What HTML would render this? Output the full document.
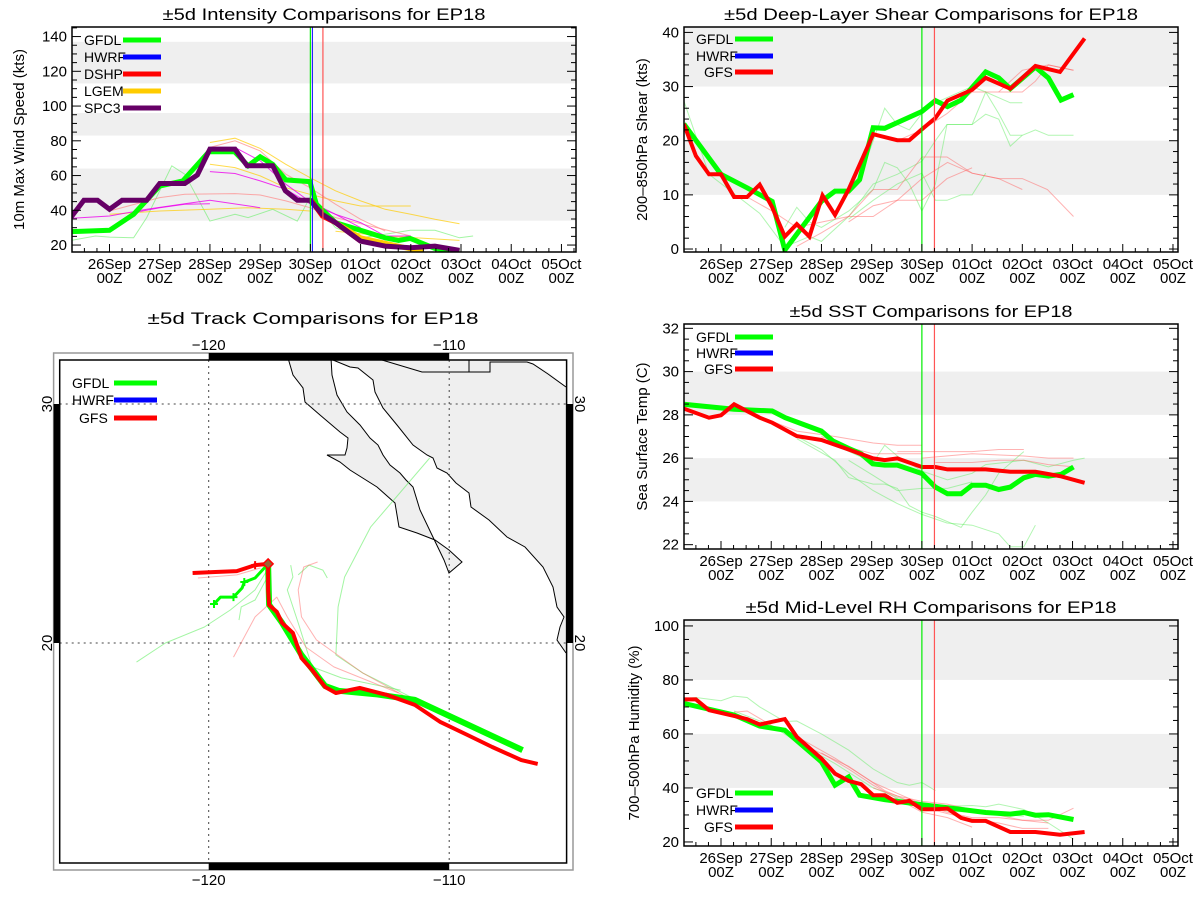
<!DOCTYPE html>
<html><head><meta charset="utf-8"><title>EP18 comparisons</title>
<style>
html,body{margin:0;padding:0;background:#fff;}
svg{display:block;font-family:"Liberation Sans",sans-serif;}
</style></head>
<body>
<svg id="root" xmlns="http://www.w3.org/2000/svg" width="1200" height="900" viewBox="0 0 1200 900">
<rect x="0" y="0" width="1200" height="900" fill="#fff"/>
</svg>
<script>
// ---------- data: time in days since 26Sep 00Z ----------
const dateLabels = ['26Sep','27Sep','28Sep','29Sep','30Sep','01Oct','02Oct','03Oct','04Oct','05Oct'];
const initTimes = [4.0, 4.25];

// Intensity (kt)
const spc3T = [-0.76,-0.51,-0.24,0,0.25,0.74,1.0,1.5,1.75,2.0,2.5,2.74,3.25,3.5,3.74,3.99,4.24,4.5,5.0,5.49,5.99,6.48,6.97];
const spc3V = [36.2,45.8,45.8,40.6,45.8,45.8,55.4,55.4,60.4,75.2,75.2,65.6,65.6,51.2,45.8,45.8,37.7,32.9,22.3,19.4,18.5,19.4,16.9];
const gfdlIT = [-0.76,0,0.48,1.0,1.46,1.98,2.22,2.49,2.76,3.0,3.25,3.51,3.99,4.12,4.5,5.0,5.49,5.76,5.99,6.48,6.97];
const gfdlIV = [27.7,28.5,37.7,54,56.9,73.7,73.7,73.7,65.6,70.8,66.5,57.5,56.5,43.5,32.9,28.5,24.2,22.7,23.8,18.1,16.2];
const dshpT = [4.0,4.24,4.5,5.0];
const dshpV = [46.3,36.7,32.9,22.3];
const lgemT = [4.5,5.0,6.25];
const lgemV = [32.9,24.2,16.2];
const magA_T=[-0.76,0,0.74,1.5,2.0,3.0], magA_V=[35.4,36.7,40.6,43.8,45.8,41.5];
const magB_T=[2,2.5,3,3.51,3.99,4.5,5], magB_V=[62.3,61.2,56.9,52.1,43.8,37.7,30];
const magC_T=[2.5,3.0,3.51,3.99,4.5,5,5.49,6], magC_V=[76.2,68.5,55,45,37.7,32.9,25.2,25.2];
const magD_T=[0.48,1,1.5,2], magD_V=[38.7,41.5,43.5,43.8];
const orE_T=[2,2.5,3,3.51,3.99,4.5,5,5.49,6,6.48,6.97], orE_V=[79,81.5,75.6,66.5,58.8,51.2,45.4,40.6,37.7,34.8,32.3];
const orF_T=[2,2.5,3,3.51,3.99,4.5,5,6], orF_V=[66.5,64.6,59.8,53,49.2,45.4,42.5,42.5];
const orG_T=[0,1,2,2.74,3.51,3.99], orG_V=[37.7,39.6,40.6,41.5,40.6,39.6];
const orH_T=[4.5,5.49,6.97], orH_V=[28,25.2,22.7];
const rdI_T=[0,1,1.5,2.5,3,3.51,3.99,4.5,5,6], rdI_V=[39.6,47.3,49.2,49.6,48.8,45.4,41.5,35.8,32.3,25.2];
const rdJ_T=[2,2.5,3,3.51,3.99,4.5,5,5.49], rdJ_V=[76.2,80,74.2,60.8,53,43.5,34.8,28.1];
const grK_T=[-0.76,-0.28,0,0.48,0.74,1.24,1.5,2,2.5,2.76,3.25,3.74,3.99,4.5,5,5.49,5.99,6.48,6.97,7.24];
const grK_V=[22.7,25.2,24.6,24.2,35.8,65.6,60.8,33.8,37.7,35.8,40.6,33.8,47.3,30,24.2,26.2,28.5,28.5,24.2,25.2];

// Shear (kt)
const gfsShT=[-0.74,-0.5,-0.24,0,0.26,0.52,0.77,1.02,1.27,1.51,1.76,2.02,2.27,2.54,3.03,3.51,3.75,4.0,4.27,4.51,5.0,5.27,5.76,6.26,6.75,7.24];
const gfsShV=[23.1,17.2,13.8,13.8,9.6,9.6,11.9,7.7,2.3,4.6,2.3,9.9,6.3,11,21.2,20.1,20.1,22.1,24.2,27.4,29.4,31.6,29.6,33.8,32.7,38.9];
const gfdlShT=[-0.74,0,0.52,1.02,1.27,2.0,2.27,2.54,2.76,3.03,3.26,4.0,4.27,4.51,4.78,5.27,5.53,5.76,6.26,6.52,6.77,7.02];
const gfdlShV=[23.1,13.8,11.3,8.8,-0.2,8.8,10.7,10.7,12.8,22.4,22.3,25.4,27.4,26.3,27.5,32.7,31.6,29.6,33.6,31.6,27.5,28.5];
const shG1_T=[-0.74,-0.24,0.77,1.27,1.76,2.0,2.54,3.03,3.51,4.0,4.27,4.5,5.0,5.27,5.53,5.76,6.0,6.26,6.52,7.02];
const shG1_V=[27.4,13.8,6.6,0.4,2.3,1.4,6.0,12,13.8,16.2,20,23,23,24.9,24.0,19,21,22,21,21];
const shG2_T=[2.76,3.03,3.26,3.51,3.75,4.0,4.27,5.0,5.27,5.76,6.0], shG2_V=[13,20,26,23,22,25,27,30,29,27,27];
const shG3_T=[1.27,1.51,1.76,2.0,2.54,3.03,3.26,3.51,3.75,4.0,4.27,4.5,5.0,5.27,5.53,5.76,6.0];
const shG3_V=[4,7.7,5,4,7,11,16,15,12,7,12,23,23,29,25,21,21];
const shG4_T=[2.54,3.03,3.51,3.75,4.0,4.27,4.5,4.78,5.0,5.27], shG4_V=[5.5,9,12,13,14,9,9,10,10,14];
const shR1_T=[0.52,1.02,1.51,2.02,2.54,3.03,3.51,4.0,4.5,5.0,5.53,6.0], shR1_V=[9.6,7,4,5,6,11,11,17,17,14,13,11];
const shR2_T=[1.51,2.0,2.54,3.03,3.51,4.0,4.51,5.0,5.53,6.0,6.5,7.02], shR2_V=[0.5,3,6,6,9,13,16,14,13,13,11,6];
const shR3_T=[2.54,3.03,3.51,4.0,4.5,5.0], shR3_V=[5,8,9,9,13,15];
const shR4_T=[3.51,4.0,4.5,5.0,5.53,6.0,6.26,6.52,7.02], shR4_V=[20,22,25,29,29,29,31,34,33];
const shR5_T=[5.53,6.0,6.52,7.02], shR5_V=[29,33,34,33];

// SST (C)
const gfsSstT=[-0.74,-0.24,0,0.26,0.77,1.02,1.51,2.0,2.54,3.03,3.26,3.51,4.0,4.27,4.51,5.27,5.76,6.26,6.75,7.24];
const gfsSstV=[28.29,27.87,27.98,28.49,27.87,27.64,27.02,26.84,26.4,25.99,25.91,25.99,25.59,25.59,25.48,25.48,25.37,25.37,25.17,24.86];
const gfdlSstT=[-0.74,0.26,1.02,1.28,2.0,2.23,2.54,2.79,3.02,3.26,3.51,4.0,4.27,4.51,4.78,5.0,5.27,5.53,5.76,6.03,6.26,6.52,6.77,7.02];
const gfdlSstV=[28.49,28.26,28.18,27.87,27.25,26.79,26.45,26.2,25.74,25.68,25.68,25.29,24.66,24.35,24.35,24.75,24.75,24.55,24.66,25.09,25.25,25.17,25.25,25.59];
const sstR1_T=[0.26,1.02,1.51,2.27,3.03,3.51,4.0], sstR1_V=[28.4,27.7,27.25,27.0,26.7,26.6,26.6];
const sstR2_T=[3.51,4.27,5.0,5.53,6.03], sstR2_V=[26.3,26.3,26.3,26.4,26.4];
const sstR3_T=[4.0,5.0,6.03,6.52,7.02], sstR3_V=[26.0,26.2,26.1,26.0,26.0];
const sstR4_T=[4.27,5.0,5.53,6.03,6.52,7.02], sstR4_V=[25.8,25.8,25.9,25.9,25.7,25.6];
const sstR5_T=[2.0,2.54,3.03,4.0], sstR5_V=[27.0,26.5,26.2,26.2];
const sstG1_T=[1.02,1.51,2.0,2.54,3.03,3.51,4.0,4.5,5.0,5.53,5.76,6.03,6.26], sstG1_V=[27.64,27.0,26.4,25.3,24.5,23.9,23.4,23.0,22.9,22.5,21.9,21.9,22.9];
const sstG2_T=[1.51,2.27,2.54,3.03,3.26,3.51,3.75,4.0,4.27,4.78,5.0,5.27,5.53,6.03], sstG2_V=[26.9,25.9,25.1,24.8,24.8,24.6,23.8,23.5,23.3,22.8,23.5,24.3,25.3,26.3];
const sstG3_T=[2.27,3.03,3.26,3.51,4.0,4.51,5.0,5.27,6.03,6.52,7.02,7.24], sstG3_V=[26.6,25.8,26.6,26.1,25.4,25.0,25.3,25.7,25.9,25.6,25.9,26.0];
const sstG4_T=[2.54,3.03,3.51,4.0,4.51,5.0], sstG4_V=[25.9,25.2,24.5,24.6,24.6,24.9];

// RH (%)
const gfsRhT=[-0.74,-0.5,-0.24,0.26,0.52,0.77,1.27,1.51,2.0,2.27,2.54,2.79,3.03,3.26,3.51,3.75,4.0,4.27,4.51,4.78,5.0,5.27,5.76,6.26,6.75,7.24];
const gfsRhV=[72.8,72.8,68.8,66.7,65.5,63.5,65.5,58.9,50.9,45.3,42.6,41.4,37.3,37.3,34.5,35.2,32.1,32.1,32.4,28.9,27.8,27.8,23.7,23.7,22.7,23.7];
const gfdlRhT=[-0.74,0.26,0.77,1.27,2.0,2.27,2.54,2.76,3.26,4.0,4.51,5.27,5.76,6.03,6.26,6.52,7.02];
const gfdlRhV=[71.3,67,62.9,61.4,49.7,41,44.1,37.3,35.7,33.8,32.7,30.9,30.3,30.9,29.9,30.1,28.3];
const rhG1_T=[-0.74,-0.5,0,0.26,0.52,0.77,1.27,1.51,2.0,2.54,3.03,3.51,3.75,4.0,4.27], rhG1_V=[73,73.5,72.3,74,73.5,70,64.6,64.8,60,54,47,42,41,42,39];
const rhG2_T=[4.27,5.0,5.27,5.53,6.03,6.52,7.02], rhG2_V=[33,33.5,33,34,32,27,21];
const rhG3_T=[0.26,1.02,1.51,2.27,3.03,3.51,4.0,4.5,5.0,5.53,6.03], rhG3_V=[68.5,63,57,49,40,36.5,33.5,31.5,31,30.5,29.5];
const rhR1_T=[0.26,0.52,1.02,1.51,2.27,3.03,3.51,4.0,4.5,5.0,5.53,6.0,6.52,7.02], rhR1_V=[68,68.5,63,59,51,42,38,34,31,29,29,28,28,32.5];
const rhR2_T=[2.0,2.54,3.03,3.51,4.0,4.51,5.0], rhR2_V=[53,47,41,36,31,29,25.5];
const rhR3_T=[1.51,2.54,3.26,4.0,4.51,5.0,5.53,6.0,6.52], rhR3_V=[57,48,39,33,30.5,28.5,27,25,25];
const rhR4_T=[3.03,3.51,4.0,4.5,5.0,6.0,6.52], rhR4_V=[40,37,35,34,32,28,27];

// Tracks (lon, lat)
const gfsTrkLon=[-120.67,-119.73,-118.83,-118.07,-117.53,-117.53,-117.49,-117.17,-116.95,-116.50,-116.14,-115.70,-115.16,-114.71,-113.72,-112.56,-111.43,-110.36,-109.24,-108.21,-107.00,-106.32];
const gfsTrkLat=[22.93,22.97,23.01,23.26,23.31,22.22,21.59,21.30,20.84,20.42,19.37,18.87,18.16,17.91,18.12,17.82,17.41,16.69,16.15,15.65,15.10,14.94];
const gfdlTrkLon=[-117.53,-117.49,-116.95,-116.14,-115.16,-114.6,-113.0,-111.43,-106.95];
const gfdlTrkLat=[23.31,21.6,20.84,19.5,18.2,18.0,17.85,17.62,15.52];
const gfdlWTrkLon=[-117.53,-118.07,-118.52,-118.61,-118.97,-119.51,-119.78];
const gfdlWTrkLat=[23.31,22.72,22.55,22.30,21.92,21.92,21.63];
const trG1Lon=[-110.81,-113.27,-114.35,-114.62,-114.71,-113.59,-111.35], trG1Lat=[27.74,24.85,22.76,21.51,19.50,18.74,17.62];
const trG2Lon=[-123.0,-121.8,-120.18,-119.10,-118.07,-117.49], trG2Lat=[19.2,20.0,20.67,21.38,22.22,23.18];
const trG3Lon=[-118.74,-118.65,-118.07,-117.62], trG3Lat=[20.96,21.51,21.80,22.64];
const trG4Lon=[-116.59,-116.5,-116.73,-116.28,-115.70,-114.48,-112.02], trG4Lat=[23.26,22.76,22.22,20.84,19.0,18.54,18.03];
const trG5Lon=[-115.07,-115.25,-115.83,-116.28], trG5Lat=[22.72,23.05,23.26,22.85];
const trR1Lon=[-118.97,-118.07,-117.17,-116.73,-115.96,-114.80,-112.11], trR1Lat=[19.41,21.09,21.92,21.09,19.83,19.0,17.91];
const trR2Lon=[-115.47,-116.05,-116.28,-116.14,-115.52,-113.59,-111.79], trR2Lat=[23.39,23.18,22.22,21.09,20.13,18.74,17.74];
const trR3Lon=[-120.45,-118.83,-117.85], trR3Lat=[22.72,22.85,23.14];

// ---------- drawing ----------
const NS='http://www.w3.org/2000/svg';
const root=document.getElementById('root');
function mk(tag,attrs,parent,name,inter){
  const el=document.createElementNS(NS,tag);
  for(const k in attrs) el.setAttribute(k,attrs[k]);
  
  
  (parent||root).appendChild(el);
  return el;
}
function txt(x,y,s,size,anchor,parent,name,extra){
  const a=Object.assign({x:x,y:y,'font-size':size,'text-anchor':anchor||'middle',fill:'#000'},extra||{});
  const t=mk('text',a,parent,name,false);
  t.textContent=s;
  return t;
}

const PI={name:'intensity',x0:72,x1:576,y0:27,y1:252,tmin:-0.747,tmax:9.29,vmin:16,vmax:145.5,
  title:'±5d Intensity Comparisons for EP18',titleY:20,titleW:323,ylab:'10m Max Wind Speed (kts)',ylx:24,
  major:20,minor:5,ticks:[20,40,60,80,100,120,140],bands:[[34,64],[83,96],[113,137]],dl:[269,283]};
const PS={name:'shear',x0:684,x1:1178,y0:27,y1:252,tmin:-0.737,tmax:9.10,vmin:-0.55,vmax:41,
  title:'±5d Deep-Layer Shear Comparisons for EP18',titleY:20,titleW:414,ylab:'200–850hPa Shear (kts)',ylx:647,
  major:10,minor:2,ticks:[0,10,20,30,40],bands:[[10,20],[30,41]],dl:[269,283]};
const PT={name:'sst',x0:684,x1:1178,y0:324,y1:549,tmin:-0.737,tmax:9.10,vmin:21.8,vmax:32.2,
  title:'±5d SST Comparisons for EP18',titleY:317,titleW:283,ylab:'Sea Surface Temp (C)',ylx:647,
  major:2,minor:0.5,ticks:[22,24,26,28,30,32],bands:[[24,26],[28,30]],dl:[566,580]};
const PR={name:'rh',x0:684,x1:1178,y0:620,y1:846,tmin:-0.737,tmax:9.10,vmin:18.5,vmax:102.2,
  title:'±5d Mid-Level RH Comparisons for EP18',titleY:613,titleW:371,ylab:'700–500hPa Humidity (%)',ylx:639,
  major:20,minor:5,ticks:[20,40,60,80,100],bands:[[40,60],[80,102.2]],dl:[863,877]};

function X(p,t){return p.x0+(t-p.tmin)/(p.tmax-p.tmin)*(p.x1-p.x0);}
function Y(p,v){return p.y1-(v-p.vmin)/(p.vmax-p.vmin)*(p.y1-p.y0);}

function setupPlot(p){
  const g=mk('g',{},root,p.name+'-panel',false);
  const cp=mk('clipPath',{id:'clip-'+p.name},g,p.name+'-clip',false);
  mk('rect',{x:p.x0,y:p.y0,width:p.x1-p.x0,height:p.y1-p.y0},cp,p.name+'-clip-rect',false);
  p.bandG=mk('g',{'clip-path':'url(#clip-'+p.name+')'},g,p.name+'-bands',false);
  p.plotG=mk('g',{'clip-path':'url(#clip-'+p.name+')'},g,p.name+'-series',false);
  p.axG=mk('g',{},g,p.name+'-axes',false);
  p.bands.forEach((b,i)=>{
    const y1=Y(p,Math.min(b[1],p.vmax)),y2=Y(p,b[0]);
    mk('rect',{x:p.x0,y:y1,width:p.x1-p.x0,height:y2-y1,fill:'#efefef'},p.bandG,'shaded-band-'+(i+1),false);
  });
  txt((p.x0+p.x1)/2,p.titleY,p.title,17,'middle',g,p.name+'-title',{textLength:p.titleW,lengthAdjust:'spacingAndGlyphs'});
  const cy=(p.y0+p.y1)/2;
  txt(p.ylx,cy,p.ylab,15,'middle',g,'y-axis-title',{transform:'rotate(-90 '+p.ylx+' '+cy+')'});
  return g;
}
function finishAxes(p){
  const a=p.axG;
  mk('line',{x1:X(p,initTimes[0]),x2:X(p,initTimes[0]),y1:p.y0,y2:p.y1,stroke:'#00ee00','stroke-width':1.2},a,'init-time-line-gfdl',false);
  if(p.name==='intensity') mk('line',{x1:X(p,initTimes[0])+2,x2:X(p,initTimes[0])+2,y1:p.y0,y2:p.y1,stroke:'#0000ff','stroke-width':1},a,'init-time-line-hwrf',false);
  mk('line',{x1:X(p,initTimes[1]),x2:X(p,initTimes[1]),y1:p.y0,y2:p.y1,stroke:'#ff5555','stroke-width':1.2},a,'init-time-line-gfs',false);
  mk('rect',{x:p.x0,y:p.y0,width:p.x1-p.x0,height:p.y1-p.y0,fill:'none',stroke:'#000','stroke-width':1.5},a,'plot-frame',false);
  for(let v=Math.ceil(p.vmin/p.minor)*p.minor; v<=p.vmax+1e-6; v+=p.minor){
    const isMaj=Math.abs(v/p.major-Math.round(v/p.major))<1e-6;
    const L=isMaj?9:5, y=Y(p,v);
    mk('line',{x1:p.x0,x2:p.x0+L,y1:y,y2:y,stroke:'#000','stroke-width':1},a,'y-tick',false);
    mk('line',{x1:p.x1,x2:p.x1-L,y1:y,y2:y,stroke:'#000','stroke-width':1},a,'y-tick-right',false);
  }
  p.ticks.forEach(v=>{ txt(p.x0-5,Y(p,v)+5,String(v),15,'end',a,'y-tick-label'); });
  for(let t=Math.ceil(p.tmin*4)/4; t<=p.tmax; t+=0.25){
    const x=X(p,t), isMaj=Math.abs(t-Math.round(t))<1e-6;
    const L=isMaj?8:4;
    mk('line',{x1:x,x2:x,y1:p.y1,y2:p.y1-L,stroke:'#000','stroke-width':1},a,'x-tick',false);
  }
  dateLabels.forEach((s,i)=>{
    txt(X(p,i),p.dl[0],s,15,'middle',a,'x-tick-label-date');
    txt(X(p,i),p.dl[1],'00Z',15,'middle',a,'x-tick-label-hour');
  });
}
function series(p,T,V,color,w,op,name){
  let d='';
  for(let i=0;i<T.length;i++) d+=(i?'L':'M')+X(p,T[i]).toFixed(1)+' '+Y(p,V[i]).toFixed(1);
  return mk('path',{d:d,fill:'none',stroke:color,'stroke-width':w,'stroke-opacity':op,'stroke-linejoin':'miter'},p.plotG,name,false);
}
function legend(p,items,x,lx1,lx2,ys,g){
  items.forEach((it,i)=>{
    txt(x+(it[2]||0),ys[i]+5,it[0],14,'start',g||p.axG,'legend-label-'+it[0].toLowerCase());
    mk('line',{x1:lx1,x2:lx2,y1:ys[i],y2:ys[i],stroke:it[1],'stroke-width':5},g||p.axG,'legend-swatch-'+it[0].toLowerCase(),false);
  });
}

// ---- Intensity ----
setupPlot(PI);
series(PI,grK_T,grK_V,'#66ee66',1,0.6,'gfdl-prior-forecast-line');
series(PI,orG_T,orG_V,'#ffcc00',1,0.7,'lgem-prior-forecast-line');
series(PI,orE_T,orE_V,'#ffcc00',1,0.7,'lgem-prior-forecast-line');
series(PI,orF_T,orF_V,'#ffcc00',1,0.7,'lgem-prior-forecast-line');
series(PI,orH_T,orH_V,'#ffcc00',1,0.7,'lgem-prior-forecast-line');
series(PI,rdI_T,rdI_V,'#ff8888',1,0.7,'dshp-prior-forecast-line');
series(PI,rdJ_T,rdJ_V,'#ff8888',1,0.7,'dshp-prior-forecast-line');
series(PI,magA_T,magA_V,'#ee00ee',1,0.8,'spc3-prior-forecast-line');
series(PI,magB_T,magB_V,'#ee00ee',1,0.8,'spc3-prior-forecast-line');
series(PI,magC_T,magC_V,'#ee00ee',1,0.8,'spc3-prior-forecast-line');
series(PI,magD_T,magD_V,'#ee00ee',1,0.8,'spc3-prior-forecast-line');
series(PI,gfdlIT,gfdlIV,'#00ff00',5,1,'gfdl-intensity-line');
series(PI,lgemT,lgemV,'#ffcc00',5,1,'lgem-intensity-line');
series(PI,dshpT,dshpV,'#ff0000',5,1,'dshp-intensity-line');
series(PI,spc3T,spc3V,'#660066',5,1,'spc3-intensity-line');
finishAxes(PI);
legend(PI,[['GFDL','#00ff00'],['HWRF','#0000ff'],['DSHP','#ff0000'],['LGEM','#ffcc00'],['SPC3','#660066']],84,123,161,[40,57,74,91,108]);

// ---- Shear ----
setupPlot(PS);
[[shG1_T,shG1_V],[shG2_T,shG2_V],[shG3_T,shG3_V],[shG4_T,shG4_V]].forEach(s=>series(PS,s[0],s[1],'#66ee66',1,0.5,'gfdl-prior-shear-line'));
[[shR1_T,shR1_V],[shR2_T,shR2_V],[shR3_T,shR3_V],[shR4_T,shR4_V],[shR5_T,shR5_V]].forEach(s=>series(PS,s[0],s[1],'#ff6666',1,0.5,'gfs-prior-shear-line'));
series(PS,gfdlShT,gfdlShV,'#00ff00',5,1,'gfdl-shear-line');
series(PS,gfsShT,gfsShV,'#ff0000',4,1,'gfs-shear-line');
finishAxes(PS);
legend(PS,[['GFDL','#00ff00'],['HWRF','#0000ff'],['GFS','#ff0000',8]],696,735,773,[39,56,72]);

// ---- SST ----
setupPlot(PT);
[[sstG1_T,sstG1_V],[sstG2_T,sstG2_V],[sstG3_T,sstG3_V],[sstG4_T,sstG4_V]].forEach(s=>series(PT,s[0],s[1],'#66ee66',1,0.5,'gfdl-prior-sst-line'));
[[sstR1_T,sstR1_V],[sstR2_T,sstR2_V],[sstR3_T,sstR3_V],[sstR4_T,sstR4_V],[sstR5_T,sstR5_V]].forEach(s=>series(PT,s[0],s[1],'#ff6666',1,0.5,'gfs-prior-sst-line'));
series(PT,gfdlSstT,gfdlSstV,'#00ff00',5,1,'gfdl-sst-line');
series(PT,gfsSstT,gfsSstV,'#ff0000',4,1,'gfs-sst-line');
finishAxes(PT);
legend(PT,[['GFDL','#00ff00'],['HWRF','#0000ff'],['GFS','#ff0000',8]],696,735,773,[337,353,369]);

// ---- RH ----
setupPlot(PR);
[[rhG1_T,rhG1_V],[rhG2_T,rhG2_V],[rhG3_T,rhG3_V]].forEach(s=>series(PR,s[0],s[1],'#66ee66',1,0.5,'gfdl-prior-rh-line'));
[[rhR1_T,rhR1_V],[rhR2_T,rhR2_V],[rhR3_T,rhR3_V],[rhR4_T,rhR4_V]].forEach(s=>series(PR,s[0],s[1],'#ff6666',1,0.5,'gfs-prior-rh-line'));
series(PR,gfdlRhT,gfdlRhV,'#00ff00',5,1,'gfdl-rh-line');
series(PR,gfsRhT,gfsRhV,'#ff0000',4,1,'gfs-rh-line');
finishAxes(PR);
legend(PR,[['GFDL','#00ff00'],['HWRF','#0000ff'],['GFS','#ff0000',8]],696,735,773,[793,810,827]);

// ---- Track map ----
const M={x0:59.7,x1:566.6,y0:360,y1:863,lonA:-120,xA:208.7,lonB:-110,xB:449.2,latA:30,yA:404,latB:20,yB:643};
function MX(lon){return M.xA+(lon-M.lonA)*(M.xB-M.xA)/(M.lonB-M.lonA);}
function MY(lat){return M.yA+(lat-M.latA)*(M.yB-M.yA)/(M.latB-M.latA);}
const mg=mk('g',{},root,'track-map-panel',false);
txt(313,324,'±5d Track Comparisons for EP18',17,'middle',mg,'track-map-title',{textLength:331,lengthAdjust:'spacingAndGlyphs'});
const mcp=mk('clipPath',{id:'clip-map'},mg,'map-clip',false);
mk('rect',{x:M.x0,y:M.y0,width:M.x1-M.x0,height:M.y1-M.y0},mcp,'map-clip-rect',false);
const mIn=mk('g',{'clip-path':'url(#clip-map)'},mg,'map-content',false);
mk('path',{d:'M288 358 L293 375 L303 388 L305 402 L320 415 L340 432 L348 438 L347 448 L345 455 L327 455 L340 462 L350 470 L377 487 L395 503 L399 527 L417 533 L435 540 L449 550 L462 562 L449 573 L444 560 L431 533 L420 510 L413 487 L406 480 L400 473 L390 465 L383 455 L378 445 L370 438 L360 425 L347 412 L337 395 L332 375 L331 358 Z',fill:'#efefef',stroke:'#000','stroke-width':1},mIn,'baja-california-land',false);
mk('path',{d:'M333 358 L333 360 L350 367 L358 368 L373 380 L375 392 L383 408 L397 425 L413 445 L427 455 L433 458 L437 468 L447 473 L456 483 L469 493 L471 507 L489 520 L507 537 L525 547 L543 567 L553 587 L557 607 L564 617 L560 627 L557 640 L566 653 L570 653 L570 387 L566 387 L548 372 L530 362 L530 358 Z',fill:'#efefef',stroke:'none'},mIn,'mexico-mainland-land',false);
mk('path',{d:'M333 360 L350 367 L358 368 L373 380 L375 392 L383 408 L397 425 L413 445 L427 455 L433 458 L437 468 L447 473 L456 483 L469 493 L471 507 L489 520 L507 537 L525 547 L543 567 L553 587 L557 607 L564 617 L560 627 L557 640 L566 653',fill:'none',stroke:'#000','stroke-width':1},mIn,'mainland-coastline',false);
mk('path',{d:'M382 360 L422 372 L490 372 L490 362 L527 362 L533 364 L548 374 L566 387',fill:'none',stroke:'#000','stroke-width':1},mIn,'us-mexico-border',false);
mk('line',{x1:469,x2:469,y1:360,y2:372,stroke:'#000','stroke-width':1},mIn,'state-border',false);
[-120,-110].forEach(l=>mk('line',{x1:MX(l),x2:MX(l),y1:M.y0,y2:M.y1,stroke:'#444','stroke-width':1,'stroke-dasharray':'2,4'},mIn,'longitude-gridline',false));
[30,20].forEach(l=>mk('line',{x1:M.x0,x2:M.x1,y1:MY(l),y2:MY(l),stroke:'#444','stroke-width':1,'stroke-dasharray':'2,4'},mIn,'latitude-gridline',false));
function track(lon,lat,color,w,op,name){
  let d='';
  for(let i=0;i<lon.length;i++) d+=(i?'L':'M')+MX(lon[i]).toFixed(1)+' '+MY(lat[i]).toFixed(1);
  return mk('path',{d:d,fill:'none',stroke:color,'stroke-width':w,'stroke-opacity':op,'stroke-linejoin':'round'},mIn,name,false);
}
[[trG1Lon,trG1Lat],[trG2Lon,trG2Lat],[trG3Lon,trG3Lat],[trG4Lon,trG4Lat],[trG5Lon,trG5Lat]].forEach(s=>track(s[0],s[1],'#66ee66',1,0.6,'gfdl-prior-track'));
[[trR1Lon,trR1Lat],[trR2Lon,trR2Lat],[trR3Lon,trR3Lat]].forEach(s=>track(s[0],s[1],'#ff6666',1,0.5,'gfs-prior-track'));
track(gfdlTrkLon,gfdlTrkLat,'#00ff00',6,1,'gfdl-track');
track(gfdlWTrkLon,gfdlWTrkLat,'#00ff00',3,1,'gfdl-west-track');
track(gfsTrkLon,gfsTrkLat,'#ff0000',4,1,'gfs-track');
[2,4,6].forEach(i=>{
  const x=MX(gfdlWTrkLon[i]),y=MY(gfdlWTrkLat[i]);
  mk('path',{d:'M'+(x-4)+' '+y+'h8M'+x+' '+(y-4)+'v8',stroke:'#00ff00','stroke-width':2},mIn,'gfdl-track-marker',false);
});
{const x=MX(gfsTrkLon[3]),y=MY(gfsTrkLat[3]);
 mk('path',{d:'M'+(x-4)+' '+y+'h8M'+x+' '+(y-4)+'v8',stroke:'#ff0000','stroke-width':2},mIn,'gfs-track-marker',false);}
{const x=MX(gfsTrkLon[4]),y=MY(gfsTrkLat[4]);
 mk('path',{d:'M'+x+' '+(y-5)+'L'+(x+5)+' '+y+'L'+x+' '+(y+5)+'L'+(x-5)+' '+y+'Z',fill:'#996633',stroke:'#ff0000','stroke-width':1.5},mIn,'storm-position-marker',false);}
mk('rect',{x:53.6,y:353,width:519.4,height:517,fill:'none',stroke:'#999','stroke-width':1.5},mg,'map-outer-frame',false);
mk('rect',{x:M.x0,y:M.y0,width:M.x1-M.x0,height:M.y1-M.y0,fill:'none',stroke:'#000','stroke-width':1.5},mg,'map-inner-frame',false);
mk('rect',{x:MX(-120),y:353,width:MX(-110)-MX(-120),height:7,fill:'#000'},mg,'map-border-band-top',false);
mk('rect',{x:MX(-120),y:863,width:MX(-110)-MX(-120),height:7,fill:'#000'},mg,'map-border-band-bottom',false);
mk('rect',{x:53.6,y:MY(30),width:6.1,height:MY(20)-MY(30),fill:'#000'},mg,'map-border-band-left',false);
mk('rect',{x:566.6,y:MY(30),width:6.4,height:MY(20)-MY(30),fill:'#000'},mg,'map-border-band-right',false);
[-120,-110].forEach(l=>{
  txt(MX(l),350,'−'+Math.abs(l),15,'middle',mg,'longitude-label-top');
  txt(MX(l),885,'−'+Math.abs(l),15,'middle',mg,'longitude-label-bottom');
});
[30,20].forEach(l=>{
  txt(52,MY(l),String(l),15,'middle',mg,'latitude-label-left',{transform:'rotate(-90 52 '+MY(l)+')'});
  txt(575,MY(l),String(l),15,'middle',mg,'latitude-label-right',{transform:'rotate(90 575 '+MY(l)+')'});
});
legend(null,[['GFDL','#00ff00'],['HWRF','#0000ff'],['GFS','#ff0000',7]],72,114,157,[383,400,418],mg);
</script>
</body></html>
